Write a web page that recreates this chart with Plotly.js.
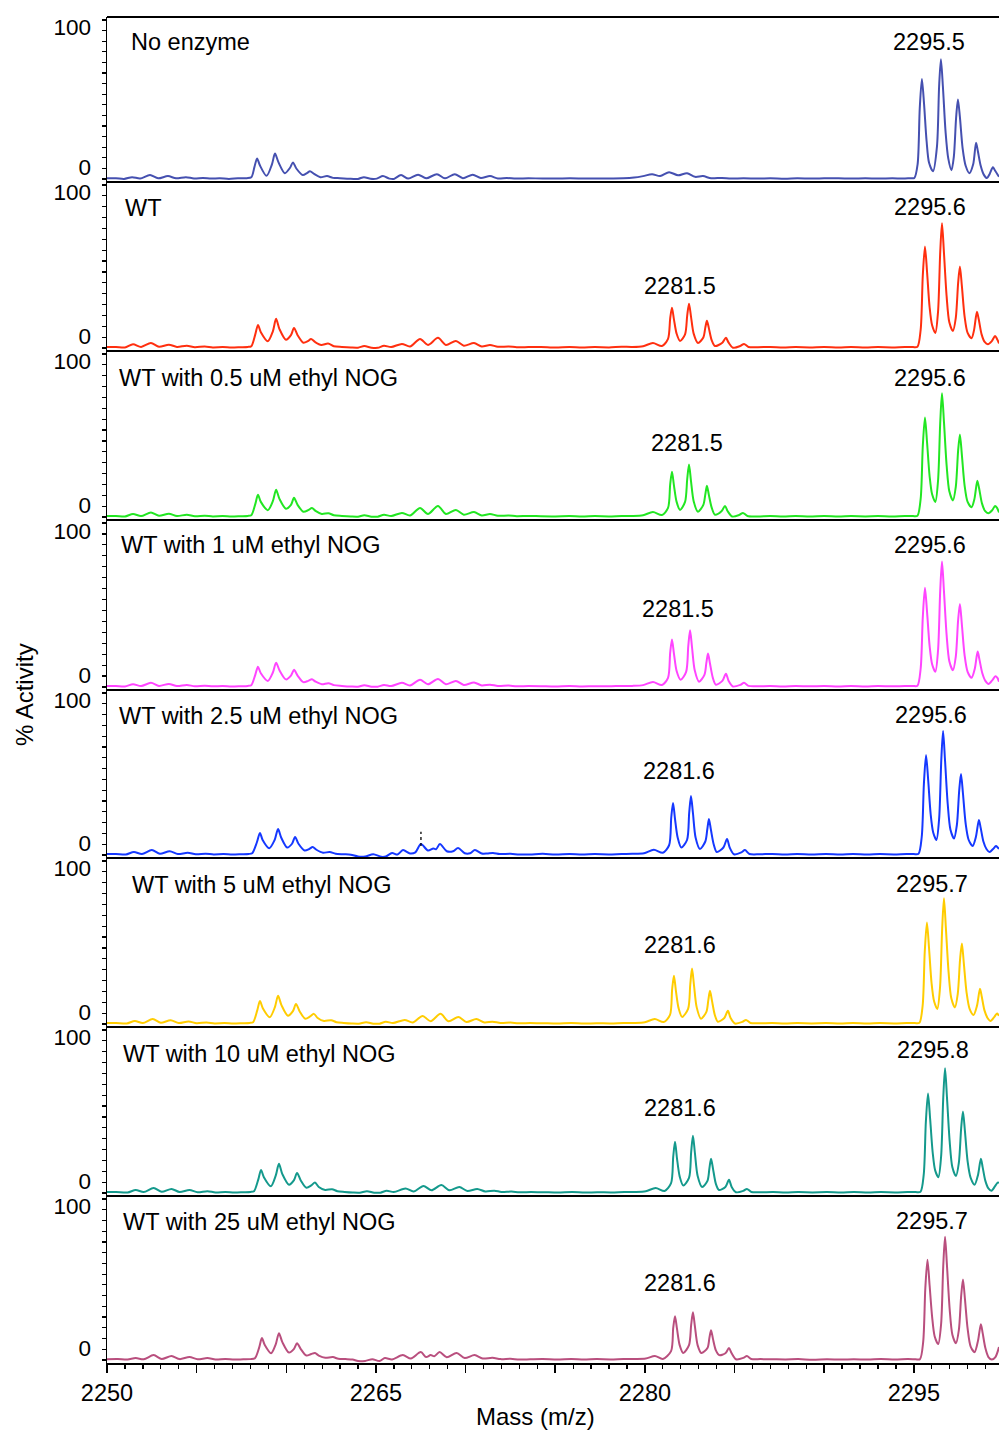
<!DOCTYPE html>
<html>
<head>
<meta charset="utf-8">
<script src="https://cdn.plot.ly/plotly-3.0.1.min.js"></script>
<style>body{margin:0;background:#fff}#chart{width:999px;height:1430px}</style>
</head>
<body>
<div id="chart"></div>
<script>
// ---------------- DATA ----------------
const panelTitles = ['No enzyme','WT','WT with 0.5 uM ethyl NOG','WT with 1 uM ethyl NOG','WT with 2.5 uM ethyl NOG','WT with 5 uM ethyl NOG','WT with 10 uM ethyl NOG','WT with 25 uM ethyl NOG'];
const mainPeakLabels = ['2295.5','2295.6','2295.6','2295.6','2295.6','2295.7','2295.8','2295.7'];
const midPeakLabels = ['','2281.5','2281.5','2281.5','2281.6','2281.6','2281.6','2281.6'];
const xTickLabels = [2250, 2265, 2280, 2295];
const yTickLabels = ['0', '100'];

// [m/z, relative intensity]
const noEnzyme = [
[2250.0,0.5],[2250.5,0.6],[2250.95,0.1],[2251.4,1.3],[2251.85,0.4],[2252.4,2.7],[2252.85,0.5],[2253.4,2.0],[2253.85,0.5],[2254.4,1.3],[2254.85,0.4],[2255.35,0.7],[2255.8,0.4],[2256.3,0.5],[2256.8,0.1],[2257.3,0.5],[2257.8,0.6],
[2258.05,1.2],[2258.23,8.5],[2258.37,14],[2258.52,9.5],[2258.9,2.2],[2259.2,10],[2259.37,17.3],[2259.56,11.5],[2259.92,4],[2260.2,7.5],[2260.37,11.3],[2260.57,7],[2260.92,2.7],[2261.15,4],[2261.32,5.3],[2261.55,3.5],[2261.9,1.3],[2262.27,2],[2262.6,0.8],[2263.0,0.6],[2263.5,0.2],
[2264.0,0.1],[2264.33,1.3],[2264.7,0.2],[2265.05,0.3],[2265.39,2],[2265.75,0.3],[2266.0,0.1],[2266.4,2.7],[2266.8,0.3],[2267.35,3],[2267.8,0.5],[2268.4,3.3],[2268.85,0.5],[2269.4,3.3],[2269.85,0.6],[2270.4,3],[2270.85,0.7],[2271.36,2],[2271.8,0.4],[2272.3,0.7],[2272.8,0.4],[2273.5,0.5],[2274.3,0.4],[2275.0,0.3],[2275.8,0.5],[2276.5,0.4],[2277.3,0.3],[2278.0,0.4],[2278.8,0.5],[2279.4,1],
[2279.9,2],[2280.4,3.3],[2280.85,2],[2281.35,4.7],[2281.85,2.5],[2282.35,4],[2282.8,1.5],[2283.24,2],[2283.7,0.5],[2284.3,0.8],[2284.8,0.3],[2285.5,0.6],[2286.3,0.3],[2287.0,0.5],[2287.8,0.2],[2288.5,0.5],[2289.3,0.3],[2290.0,0.5],[2290.8,0.6],[2291.5,0.3],[2292.3,0.5],[2293.0,0.3],[2293.8,0.5],[2294.4,0.4],[2294.8,0.6],
[2295.03,0.7],[2295.21,10],[2295.33,48],[2295.45,68],[2295.57,51],[2295.71,26],[2295.85,11],[2296.07,5.3],[2296.29,22],[2296.41,63],[2296.51,81.3],[2296.62,63],[2296.77,32],[2296.92,14],[2297.1,6],[2297.23,15],[2297.36,42],[2297.46,54],[2297.57,42],[2297.72,21],[2297.89,9],[2298.1,4],[2298.31,10],[2298.47,24.7],[2298.57,19],[2298.73,9],[2298.9,3],[2299.08,0.7],[2299.23,3.5],[2299.41,8],[2299.52,6],[2299.75,1.5]
];

const wt = [
[2250.0,0.7],[2250.5,0.7],[2251.0,0.3],[2251.45,2.5],[2251.9,0.7],[2252.45,3.3],[2252.9,0.8],[2253.45,2.2],[2253.9,0.7],[2254.45,1.5],[2254.9,0.5],[2255.45,1.0],[2255.9,0.4],[2256.45,0.6],[2256.95,0.3],[2257.45,0.5],[2257.85,0.7],
[2258.05,1.2],[2258.27,9],[2258.42,15.3],[2258.58,10.5],[2258.97,4.5],[2259.25,11],[2259.43,19.3],[2259.62,12.5],[2259.98,5.5],[2260.26,8.5],[2260.43,13.3],[2260.63,8.5],[2260.95,3.5],[2261.2,4.5],[2261.38,6],[2261.6,4],[2261.95,2],[2262.33,3],[2262.65,1.2],[2263.1,0.7],[2263.6,0.3],
[2264.0,0.2],[2264.35,1.3],[2264.75,0.2],[2265.1,0.1],[2265.45,1.5],[2265.85,0.6],[2266.45,2.7],[2266.9,1.0],[2267.46,6],[2267.9,2],[2268.46,6.7],[2268.9,2],[2269.46,4.7],[2269.9,1.5],[2270.47,3.3],[2270.9,1],[2271.36,2],[2271.8,0.8],[2272.4,1],[2272.85,0.5],[2273.5,0.6],[2274.2,0.7],[2275.0,0.3],[2275.8,0.6],[2276.5,0.3],[2277.2,0.6],[2278.0,0.4],[2278.7,0.8],[2279.3,0.7],
[2279.9,1.2],[2280.45,3.3],[2280.95,1.3],[2281.29,6],[2281.41,19.5],[2281.51,26.7],[2281.62,19],[2281.77,9.5],[2281.96,4.7],[2282.24,9],[2282.36,21.5],[2282.46,29.3],[2282.57,21],[2282.72,9.5],[2282.96,3.3],[2283.26,7],[2283.37,13.5],[2283.46,18],[2283.57,13],[2283.73,5],[2283.91,1.3],[2284.32,3.5],[2284.52,6.7],[2284.67,3.5],[2284.91,0.2],[2285.33,1.4],[2285.53,2.7],[2285.78,0.7],
[2286.3,0.5],[2287.0,0.7],[2287.7,0.3],[2288.4,0.6],[2289.2,0.4],[2290.0,0.7],[2290.8,0.3],[2291.5,0.6],[2292.3,0.3],[2293.0,0.6],[2293.8,0.4],[2294.5,0.7],[2294.95,0.6],
[2295.2,0.8],[2295.38,12],[2295.5,48],[2295.62,67.3],[2295.74,50],[2295.88,27],[2296.02,15],[2296.2,10],[2296.35,24],[2296.47,63],[2296.57,82.7],[2296.68,63],[2296.83,34],[2296.98,17],[2297.18,11.3],[2297.34,20],[2297.47,43],[2297.57,54],[2297.68,41],[2297.83,21],[2298.0,10],[2298.22,6.5],[2298.36,12],[2298.52,24],[2298.62,19],[2298.78,9],[2298.95,4],[2299.13,2.5],[2299.35,4.5],[2299.53,8],[2299.64,6],[2299.75,3]
];

const wtNog05 = [
[2250.0,0.6],[2250.5,0.7],[2251.0,0.3],[2251.45,2],[2251.9,0.6],[2252.45,3],[2252.9,0.8],[2253.45,2.2],[2253.9,0.6],[2254.45,1.5],[2254.9,0.5],[2255.45,0.8],[2255.9,0.4],[2256.45,0.6],[2256.95,0.3],[2257.45,0.5],[2257.85,0.7],
[2258.05,1.2],[2258.27,8.5],[2258.42,14.7],[2258.58,10],[2258.97,4.5],[2259.25,10.5],[2259.43,18],[2259.62,12],[2259.98,5.5],[2260.26,8],[2260.43,12.7],[2260.63,8],[2260.95,3.5],[2261.22,4.5],[2261.43,6],[2261.63,4],[2261.98,2],[2262.35,2.5],[2262.65,1.2],[2263.1,0.7],[2263.6,0.3],
[2264.0,0.2],[2264.35,1.2],[2264.75,0.2],[2265.1,0.2],[2265.45,1.5],[2265.85,0.6],[2266.45,2.7],[2266.9,1.0],[2267.46,6],[2267.9,2],[2268.46,7.3],[2268.9,2],[2269.46,4.7],[2269.9,1.5],[2270.47,3.3],[2270.9,1],[2271.36,2],[2271.8,0.8],[2272.4,1],[2272.85,0.5],[2273.5,0.7],[2274.2,0.5],[2275.0,0.4],[2275.8,0.6],[2276.5,0.3],[2277.2,0.6],[2278.0,0.4],[2278.7,0.7],[2279.3,0.7],
[2279.9,1.2],[2280.45,3.3],[2280.95,1.3],[2281.29,6],[2281.41,21.5],[2281.51,30],[2281.62,21],[2281.77,10],[2281.96,4.7],[2282.24,10],[2282.36,25],[2282.46,34.7],[2282.57,24],[2282.72,10.5],[2282.96,3.5],[2283.26,8],[2283.37,15],[2283.46,20.7],[2283.57,14.5],[2283.73,6],[2283.91,1.5],[2284.27,3.8],[2284.47,7.3],[2284.62,3.8],[2284.87,0.3],[2285.27,1.4],[2285.47,2.7],[2285.72,0.7],
[2286.3,0.4],[2287.0,0.7],[2287.7,0.3],[2288.4,0.6],[2289.2,0.3],[2290.0,0.6],[2290.8,0.3],[2291.5,0.6],[2292.3,0.4],[2293.0,0.6],[2293.8,0.3],[2294.5,0.7],[2294.95,0.6],
[2295.2,0.8],[2295.38,12],[2295.5,47],[2295.62,66],[2295.74,49],[2295.88,27],[2296.02,15],[2296.2,10],[2296.35,24],[2296.47,62],[2296.57,82],[2296.68,63],[2296.83,34],[2296.98,17],[2297.18,11],[2297.34,20],[2297.47,44],[2297.57,54.7],[2297.68,41],[2297.83,21],[2298.0,10],[2298.22,6.5],[2298.38,12],[2298.54,24],[2298.64,19],[2298.8,9],[2298.97,4],[2299.15,2.5],[2299.37,4.5],[2299.53,7.3],[2299.64,6],[2299.75,3]
];

const wtNog1 = [
[2250.0,0.6],[2250.5,0.6],[2251.0,0.3],[2251.45,1.8],[2251.9,0.6],[2252.45,2.7],[2252.9,0.7],[2253.45,2],[2253.9,0.6],[2254.45,1.3],[2254.9,0.5],[2255.45,0.8],[2255.9,0.4],[2256.45,0.6],[2256.95,0.3],[2257.45,0.5],[2257.85,0.7],
[2258.05,1.2],[2258.27,8],[2258.42,13.3],[2258.58,9],[2258.97,4],[2259.25,9.5],[2259.43,16],[2259.62,11],[2259.98,5],[2260.26,7.5],[2260.43,11.3],[2260.63,7.5],[2260.95,3.2],[2261.22,4],[2261.43,5],[2261.63,3.5],[2261.98,1.8],[2262.35,2.5],[2262.65,1.2],[2263.1,0.7],[2263.6,0.3],
[2264.0,0.2],[2264.35,1.2],[2264.75,0.2],[2265.1,0.2],[2265.45,1.3],[2265.85,0.6],[2266.45,2.7],[2266.9,1.0],[2267.46,4.7],[2267.9,1.8],[2268.46,5.3],[2268.9,1.8],[2269.46,4],[2269.9,1.3],[2270.47,3],[2270.9,1],[2271.36,1.5],[2271.8,0.7],[2272.4,0.9],[2272.85,0.5],[2273.5,0.6],[2274.2,0.5],[2275.0,0.3],[2275.8,0.6],[2276.5,0.3],[2277.2,0.5],[2278.0,0.4],[2278.7,0.7],[2279.3,0.7],
[2279.9,1.2],[2280.45,3.3],[2280.95,1.3],[2281.29,6],[2281.41,22.5],[2281.51,31.3],[2281.62,22],[2281.77,10.5],[2281.99,4.7],[2282.3,10],[2282.42,27],[2282.52,37.3],[2282.63,26],[2282.78,11],[2283.02,3.5],[2283.32,8],[2283.43,16],[2283.52,22],[2283.63,15.5],[2283.79,6],[2283.96,1.5],[2284.32,4],[2284.52,8.7],[2284.67,4],[2284.91,0.3],[2285.33,1.4],[2285.53,2.7],[2285.78,0.7],
[2286.3,0.5],[2287.0,0.6],[2287.7,0.3],[2288.4,0.6],[2289.2,0.4],[2290.0,0.6],[2290.8,0.3],[2291.5,0.6],[2292.3,0.3],[2293.0,0.6],[2293.8,0.4],[2294.5,0.6],[2294.95,0.6],
[2295.2,0.8],[2295.38,12],[2295.5,46],[2295.62,65.3],[2295.74,49],[2295.88,27],[2296.02,15],[2296.2,10],[2296.35,24],[2296.47,63],[2296.57,82.7],[2296.68,63],[2296.83,34],[2296.98,17],[2297.18,11],[2297.34,20],[2297.47,44],[2297.57,54.7],[2297.68,41],[2297.83,21],[2298.0,10],[2298.22,6],[2298.4,12],[2298.56,23.3],[2298.66,18],[2298.82,9],[2298.99,4],[2299.17,2],[2299.38,4.5],[2299.55,7],[2299.66,6],[2299.75,3.5]
];

const wtNog25 = [
[2250.0,0.6],[2250.5,0.7],[2251.05,0.3],[2251.5,2],[2251.95,0.6],[2252.5,3.3],[2252.95,0.8],[2253.5,2.5],[2253.95,0.6],[2254.5,1.5],[2254.95,0.5],[2255.5,0.8],[2255.95,0.4],[2256.5,0.6],[2257.0,0.3],[2257.5,0.5],[2257.9,0.7],
[2258.1,1.2],[2258.36,8.5],[2258.53,14.7],[2258.68,10],[2259.05,4.5],[2259.35,10],[2259.54,17.3],[2259.72,11.5],[2260.05,5],[2260.32,7.5],[2260.49,12],[2260.68,7.5],[2261.02,3],[2261.28,4],[2261.47,5.3],[2261.68,3.5],[2262.05,1.5],[2262.42,2],[2262.75,0.8],[2263.2,0.5],[2263.6,0.2],
[2264.0,-1.0],[2264.4,-1.0],[2264.85,0.5],[2265.3,-1.2],[2265.55,-1.0],[2265.9,1.3],[2266.2,0.3],[2266.51,3.3],[2266.9,1.0],[2267.2,1.8],[2267.51,7.3],[2267.9,3],[2268.2,4.3],[2268.35,3.8],[2268.57,7.3],[2268.95,2.5],[2269.3,2.5],[2269.58,4.7],[2269.95,1.2],[2270.25,1.2],[2270.52,3.3],[2270.9,1],[2271.2,1],[2271.53,1.3],[2271.9,0.6],[2272.5,0.8],[2273.0,0.3],[2273.6,0.4],[2274.3,0.8],[2275.0,0.3],[2275.8,0.6],[2276.5,0.3],[2277.2,0.6],[2278.0,0.4],[2278.7,0.7],[2279.3,0.8],
[2279.95,1.2],[2280.5,3.5],[2281.0,1.5],[2281.35,6.5],[2281.47,25],[2281.57,34.7],[2281.68,24],[2281.83,11.5],[2282.03,5],[2282.35,10],[2282.47,28],[2282.57,39.3],[2282.68,28],[2282.83,11.5],[2283.07,4],[2283.37,9],[2283.48,17],[2283.57,24],[2283.68,17],[2283.84,7],[2284.01,2],[2284.38,5],[2284.58,10.7],[2284.73,5],[2284.97,0.5],[2285.38,1.7],[2285.58,3.3],[2285.83,0.7],
[2286.4,0.5],[2287.1,0.7],[2287.8,0.3],[2288.5,0.6],[2289.3,0.3],[2290.1,0.6],[2290.9,0.3],[2291.6,0.6],[2292.4,0.3],[2293.1,0.6],[2293.9,0.4],[2294.6,0.7],[2295.0,0.6],
[2295.26,0.8],[2295.44,12],[2295.56,47],[2295.68,66.7],[2295.8,50],[2295.94,27],[2296.08,15],[2296.26,10],[2296.41,24],[2296.53,63],[2296.63,82.7],[2296.74,63],[2296.89,34],[2297.04,17],[2297.24,11],[2297.4,20],[2297.53,43],[2297.63,54],[2297.74,41],[2297.89,21],[2298.06,10],[2298.28,6],[2298.46,12],[2298.63,23.3],[2298.73,18],[2298.88,9],[2299.05,4],[2299.22,2],[2299.42,4],[2299.58,6],[2299.68,5],[2299.75,4]
];

const wtNog5 = [
[2250.0,0.6],[2250.5,0.7],[2251.1,0.3],[2251.55,2],[2252.0,0.6],[2252.55,3.3],[2253.0,0.8],[2253.55,2.5],[2254.0,0.6],[2254.55,1.7],[2255.0,0.5],[2255.55,1],[2256.0,0.4],[2256.55,0.6],[2257.05,0.3],[2257.55,0.5],[2257.95,0.7],
[2258.15,1.2],[2258.38,9],[2258.53,15.3],[2258.69,10.5],[2259.08,4.5],[2259.36,11],[2259.54,18.7],[2259.73,12.5],[2260.09,5.5],[2260.37,8.5],[2260.54,13.3],[2260.74,8.5],[2261.06,3.5],[2261.33,5],[2261.54,6.7],[2261.75,4],[2262.1,2],[2262.5,2.5],[2262.8,1.2],[2263.2,0.7],[2263.65,0.3],
[2264.05,0.2],[2264.45,1.2],[2264.85,0.2],[2265.2,0.2],[2265.55,1.5],[2265.95,0.6],[2266.6,2.7],[2267.05,1.0],[2267.6,5.3],[2268.05,1.8],[2268.6,6.7],[2269.05,1.8],[2269.6,4.7],[2270.05,1.3],[2270.6,3.3],[2271.05,1],[2271.5,1.5],[2271.95,0.7],[2272.5,0.9],[2272.95,0.5],[2273.6,0.6],[2274.3,0.5],[2275.1,0.3],[2275.9,0.6],[2276.6,0.3],[2277.3,0.5],[2278.1,0.4],[2278.8,0.7],[2279.4,0.7],
[2280.0,1.2],[2280.55,3.3],[2281.05,1.3],[2281.4,6],[2281.52,23],[2281.62,32],[2281.73,22],[2281.88,10.5],[2282.08,4.7],[2282.41,10],[2282.53,26],[2282.63,36.7],[2282.74,25.5],[2282.89,11],[2283.13,3.5],[2283.43,8],[2283.54,16],[2283.63,22],[2283.74,15.5],[2283.9,6],[2284.07,1.5],[2284.43,4],[2284.63,8.7],[2284.78,4],[2285.02,0.3],[2285.44,1.4],[2285.64,2.7],[2285.89,0.7],
[2286.4,0.5],[2287.1,0.6],[2287.8,0.3],[2288.5,0.6],[2289.3,0.4],[2290.1,0.6],[2290.9,0.3],[2291.6,0.6],[2292.4,0.3],[2293.1,0.6],[2293.9,0.4],[2294.6,0.6],[2295.05,0.6],
[2295.31,0.8],[2295.49,12],[2295.61,48],[2295.73,67.3],[2295.85,50],[2295.99,27],[2296.13,15],[2296.31,10],[2296.46,24],[2296.58,63],[2296.68,83.3],[2296.79,63],[2296.94,34],[2297.09,17],[2297.29,11],[2297.45,20],[2297.58,43],[2297.68,53.3],[2297.79,40],[2297.94,21],[2298.11,10],[2298.33,6],[2298.52,12],[2298.69,23.3],[2298.79,18],[2298.94,9],[2299.11,4],[2299.28,2],[2299.48,4.5],[2299.64,7],[2299.75,5.5]
];

const wtNog10 = [
[2250.0,0.6],[2250.5,0.7],[2251.15,0.3],[2251.6,2],[2252.05,0.6],[2252.6,3.3],[2253.05,0.8],[2253.6,2.7],[2254.05,0.6],[2254.6,2],[2255.05,0.5],[2255.6,1.2],[2256.05,0.4],[2256.6,0.7],[2257.1,0.3],[2257.6,0.5],[2258.0,0.7],
[2258.2,1.2],[2258.44,9],[2258.59,15.3],[2258.75,10.5],[2259.14,4.5],[2259.41,11.5],[2259.59,19.3],[2259.78,12.5],[2260.15,5.5],[2260.43,8.5],[2260.6,13.3],[2260.8,8.5],[2261.12,3.5],[2261.39,5],[2261.6,7],[2261.81,4],[2262.17,2],[2262.55,2.5],[2262.85,1.2],[2263.25,0.7],[2263.7,0.3],
[2264.1,0.2],[2264.5,1.2],[2264.9,0.2],[2265.25,0.2],[2265.6,1.5],[2266.0,0.6],[2266.65,3],[2267.1,1.0],[2267.65,4.7],[2268.1,1.8],[2268.65,5.3],[2269.1,1.8],[2269.65,4],[2270.1,1.3],[2270.65,2.7],[2271.1,1],[2271.6,1.5],[2272.0,0.7],[2272.55,0.9],[2273.0,0.5],[2273.65,0.6],[2274.35,0.5],[2275.15,0.3],[2275.95,0.6],[2276.65,0.3],[2277.35,0.5],[2278.15,0.4],[2278.85,0.7],[2279.45,0.7],
[2280.05,1.2],[2280.6,3.3],[2281.1,1.3],[2281.46,6.5],[2281.58,24],[2281.68,34],[2281.79,23],[2281.94,11],[2282.14,5],[2282.46,10],[2282.58,27],[2282.68,38],[2282.79,26.5],[2282.94,11.5],[2283.19,4],[2283.49,8],[2283.6,16.5],[2283.69,22.7],[2283.8,16],[2283.96,6],[2284.13,2],[2284.49,4],[2284.69,8.7],[2284.84,4],[2285.08,0.5],[2285.49,1.4],[2285.69,2.7],[2285.94,0.7],
[2286.45,0.5],[2287.15,0.6],[2287.85,0.3],[2288.55,0.6],[2289.35,0.4],[2290.15,0.6],[2290.95,0.3],[2291.65,0.6],[2292.45,0.3],[2293.15,0.6],[2293.95,0.4],[2294.65,0.6],[2295.1,0.6],
[2295.37,0.8],[2295.55,12],[2295.67,47],[2295.79,66],[2295.91,49],[2296.05,27],[2296.19,15],[2296.37,10.5],[2296.52,24],[2296.64,63],[2296.74,82.7],[2296.85,63],[2297.0,34],[2297.15,17],[2297.35,11.3],[2297.51,20],[2297.64,43],[2297.74,54],[2297.85,41],[2298.0,21],[2298.17,10],[2298.39,5.5],[2298.58,12],[2298.74,22.7],[2298.84,17],[2298.99,8],[2299.16,3],[2299.33,1.5],[2299.53,4.5],[2299.69,7],[2299.75,6.5]
];

const wtNog25uM = [
[2250.0,0.5],[2250.6,0.6],[2251.15,0.3],[2251.6,1.3],[2252.05,0.5],[2252.6,3.3],[2253.05,0.7],[2253.6,2.7],[2254.05,0.6],[2254.6,2],[2255.05,0.5],[2255.6,1.3],[2256.05,0.4],[2256.6,0.7],[2257.1,0.3],[2257.6,0.5],[2258.0,0.6],
[2258.25,1.2],[2258.49,8.5],[2258.64,14.7],[2258.8,10],[2259.15,4.5],[2259.41,10.5],[2259.59,18],[2259.78,12],[2260.15,5],[2260.43,7.5],[2260.6,11.3],[2260.8,7.5],[2261.12,3],[2261.39,4],[2261.6,4.7],[2261.81,3],[2262.17,1.5],[2262.6,2],[2262.9,0.8],[2263.3,0.6],[2263.7,0.3],
[2264.0,-0.7],[2264.4,-0.6],[2264.8,0.5],[2265.2,-0.7],[2265.5,1.3],[2265.9,0.4],[2266.5,3.3],[2266.95,1],[2267.5,5.3],[2267.8,2],[2268.05,3.3],[2268.25,2.5],[2268.55,5.3],[2268.95,1.8],[2269.5,4.7],[2269.95,1.3],[2270.5,3.3],[2270.95,1],[2271.5,1.5],[2271.95,0.6],[2272.5,0.8],[2273.0,0.3],[2273.6,0.5],[2274.3,0.7],[2275.1,0.3],[2275.9,0.6],[2276.6,0.3],[2277.3,0.6],[2278.1,0.4],[2278.8,0.7],[2279.45,0.7],
[2280.05,1],[2280.56,2.7],[2281.0,0.7],[2281.46,6],[2281.58,21.5],[2281.68,29.3],[2281.79,21],[2281.94,10],[2282.14,4.7],[2282.46,10],[2282.58,23.5],[2282.68,32],[2282.79,22.5],[2282.94,10],[2283.15,4.7],[2283.49,8],[2283.6,15],[2283.69,20],[2283.8,14],[2283.96,6.5],[2284.15,3.3],[2284.49,4.5],[2284.69,8],[2284.84,4.5],[2285.08,0.5],[2285.49,1.4],[2285.69,2.7],[2285.94,0.7],
[2286.45,0.6],[2287.15,0.5],[2287.85,0.4],[2288.55,0.6],[2289.35,0.2],[2290.15,0.5],[2290.95,0.3],[2291.65,0.5],[2292.45,0.3],[2293.15,0.6],[2293.95,0.3],[2294.65,0.6],[2295.1,0.5],
[2295.34,0.5],[2295.52,12],[2295.64,48],[2295.76,67.3],[2295.88,50],[2296.02,29],[2296.16,16],[2296.36,10.7],[2296.52,24],[2296.64,63],[2296.74,82.7],[2296.85,63],[2297.0,34],[2297.15,17],[2297.35,11.3],[2297.51,20],[2297.64,43],[2297.74,54],[2297.85,41],[2298.0,21],[2298.17,9],[2298.39,5.3],[2298.58,13],[2298.74,24],[2298.84,18],[2298.99,8],[2299.16,2],[2299.35,0.3],[2299.55,2],[2299.75,8.7]
];

const spectra = [noEnzyme, wt, wtNog05, wtNog1, wtNog25, wtNog5, wtNog10, wtNog25uM];

// ---------------- STYLE / LAYOUT ----------------
const colors = ['#4550b0','#ff2f0f','#22e622','#ff45ff','#1538ff','#ffcc00','#14998c','#b94f7e'];
const FONT = 'Liberation Sans, Arial, Helvetica, sans-serif';
const W = 999, H = 1430;
const borders = [17,182,351,520,690,858,1027,1196,1363]; // panel edges in px
const plotTop = borders[0], plotBottom = borders[8], plotH = plotBottom - plotTop;
const plotLeft = 107, plotW = W - plotLeft;
const px2paperX = px => (px - plotLeft) / plotW;
const px2paperY = py => (plotBottom - py) / plotH;

const titlePos = [[129,42],[123,208],[117,378],[119,545],[117,716],[130,885],[121,1054],[121,1222]];
const mainLabPos = [[929,42],[930,207],[930,378],[930,545],[931,715],[932,884],[933,1050],[932,1221]];
const midLabPos = [null,[680,286],[687,443],[678,609],[679,771],[680,945],[680,1108],[680,1283]];

const yId = i => i === 0 ? 'y' : 'y' + (i + 1);
const yKey = i => i === 0 ? 'yaxis' : 'yaxis' + (i + 1);

const traces = spectra.map((pts, i) => ({
  type: 'scatter', mode: 'lines',
  x: pts.map(p => p[0]), y: pts.map(p => p[1]),
  xaxis: 'x', yaxis: yId(i),
  line: {color: colors[i], width: 2, shape: 'spline', smoothing: 0.8},
  hoverinfo: 'skip', showlegend: false
}));

const xMajor = [];
for (let v = 2250; v <= 2295; v += 5) xMajor.push(v);

const layout = {
  width: W, height: H,
  margin: {l: plotLeft, r: 0, t: plotTop, b: H - plotBottom, pad: 0},
  paper_bgcolor: '#fff', plot_bgcolor: '#fff',
  font: {family: FONT, color: '#000', size: 22},
  showlegend: false,
  xaxis: {
    domain: [0, 1], anchor: 'y8', range: [2250, 2299.75],
    showline: true, linecolor: '#000', linewidth: 2,
    showgrid: false, zeroline: false,
    tickmode: 'array', tickvals: xMajor,
    ticktext: xMajor.map(v => xTickLabels.includes(v) ? String(v) : ''),
    ticks: 'outside', ticklen: 8, tickwidth: 1.5, tickcolor: '#000',
    tickfont: {family: FONT, size: 23.5, color: '#000'},
    minor: {tickmode: 'linear', tick0: 2250, dtick: 1, ticks: 'outside', ticklen: 4, tickwidth: 1.3, tickcolor: '#000', showgrid: false},
    fixedrange: true
  },
  shapes: [], annotations: []
};

for (let i = 0; i < 8; i++) {
  const dom = [px2paperY(borders[i + 1]), px2paperY(borders[i])];
  layout[yKey(i)] = {
    domain: dom, anchor: 'x', range: [-2, 110],
    showline: true, linecolor: '#000', linewidth: 1.5,
    showgrid: false, zeroline: false,
    tickmode: 'array', tickvals: [8, 103], ticktext: yTickLabels,
    ticks: '', ticklabelstandoff: 10,
    tickfont: {family: FONT, size: 22.5, color: '#000'},
    minor: {tickmode: 'linear', tick0: 0, dtick: 7.2, ticks: 'outside', ticklen: 4, tickwidth: 1.2, tickcolor: '#000', showgrid: false},
    fixedrange: true
  };
  layout['yaxis' + (9 + i)] = {
    overlaying: yId(i), anchor: 'x', side: 'left', range: [-2, 110],
    tickmode: 'linear', tick0: 0, dtick: 36, ticks: 'outside', ticklen: 7, tickwidth: 1.3, tickcolor: '#000',
    showticklabels: false, showline: false, showgrid: false, zeroline: false, fixedrange: true
  };
  layout.shapes.push({type: 'line', xref: 'paper', yref: 'paper', x0: 0, x1: 1,
    y0: px2paperY(borders[i]), y1: px2paperY(borders[i]), line: {color: '#000', width: 2.2}});
  layout.annotations.push({xref: 'paper', yref: 'paper', x: px2paperX(titlePos[i][0]), y: px2paperY(titlePos[i][1]),
    xanchor: 'left', yanchor: 'middle', text: panelTitles[i], showarrow: false,
    font: {family: FONT, size: 23.5, color: '#000'}});
  layout.annotations.push({xref: 'paper', yref: 'paper', x: px2paperX(mainLabPos[i][0]), y: px2paperY(mainLabPos[i][1]),
    xanchor: 'center', yanchor: 'middle', text: mainPeakLabels[i], showarrow: false,
    font: {family: FONT, size: 23.5, color: '#000'}});
  if (midPeakLabels[i]) {
    layout.annotations.push({xref: 'paper', yref: 'paper', x: px2paperX(midLabPos[i][0]), y: px2paperY(midLabPos[i][1]),
      xanchor: 'center', yanchor: 'middle', text: midPeakLabels[i], showarrow: false,
      font: {family: FONT, size: 23.5, color: '#000'}});
  }
}

layout.shapes.push({type: 'line', xref: 'x', yref: 'y5', x0: 2267.51, x1: 2267.51, y0: 6, y1: 15.5,
  line: {color: '#000', width: 1.3, dash: 'dot'}});

layout.annotations.push({xref: 'paper', yref: 'paper', x: px2paperX(535), y: px2paperY(1416),
  xanchor: 'center', yanchor: 'middle', text: 'Mass (m/z)', showarrow: false,
  font: {family: FONT, size: 24, color: '#000'}});
layout.annotations.push({xref: 'paper', yref: 'paper', x: px2paperX(24), y: px2paperY(695),
  xanchor: 'center', yanchor: 'middle', text: '% Activity', textangle: -90, showarrow: false,
  font: {family: FONT, size: 24, color: '#000'}});

Plotly.newPlot('chart', traces, layout, {staticPlot: true, displayModeBar: false});
</script>
</body>
</html>
